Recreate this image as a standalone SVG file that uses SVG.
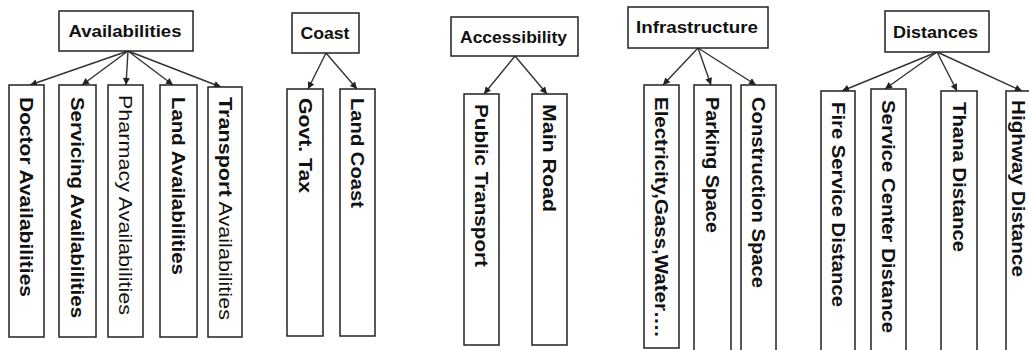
<svg xmlns="http://www.w3.org/2000/svg" width="1029" height="350" viewBox="0 0 1029 350">
<style>
.box{fill:#fff;stroke:#222;stroke-width:1.5}
.h{font-family:"Liberation Sans",Arial,sans-serif;font-weight:bold;font-size:17px;fill:#111;text-anchor:middle}
.v{font-family:"Liberation Sans",Arial,sans-serif;font-weight:bold;font-size:18px;fill:#111}
.n{font-weight:normal}
.c line{stroke:#333;stroke-width:1.4;marker-end:url(#ah)}
</style>
<defs>
<marker id="ah" viewBox="0 0 10 10" refX="10" refY="5" markerWidth="8" markerHeight="7" markerUnits="userSpaceOnUse" orient="auto">
<path d="M0,0 L10,5 L0,10 z" fill="#222"/>
</marker>
</defs>
<rect width="1029" height="350" fill="#fff"/>
<g class="c" id="connectors">
<line x1="128" y1="51" x2="30" y2="85"/>
<line x1="128" y1="51" x2="82" y2="85"/>
<line x1="128" y1="51" x2="126" y2="85"/>
<line x1="128" y1="51" x2="173" y2="85"/>
<line x1="128" y1="51" x2="221" y2="87"/>
<line x1="326" y1="53" x2="308" y2="89"/>
<line x1="326" y1="53" x2="357" y2="89"/>
<line x1="515" y1="56" x2="484" y2="94"/>
<line x1="515" y1="56" x2="547" y2="94"/>
<line x1="698" y1="48" x2="663" y2="85"/>
<line x1="698" y1="48" x2="711" y2="85"/>
<line x1="698" y1="48" x2="756" y2="85"/>
<line x1="937" y1="52" x2="842" y2="91"/>
<line x1="937" y1="52" x2="885" y2="89"/>
<line x1="937" y1="52" x2="957" y2="91"/>
<line x1="937" y1="52" x2="1022" y2="91"/>
</g>
<g id="availabilities"><rect class="box" x="59" y="11" width="134" height="40"/><text class="h" x="125" y="37" textLength="113" lengthAdjust="spacingAndGlyphs">Availabilities</text></g>
<g id="doctor"><rect class="box" x="9" y="85" width="35" height="252"/><text class="v" transform="translate(26.5,97) rotate(90)" y="6.5" textLength="200" lengthAdjust="spacingAndGlyphs">Doctor Availabilities</text></g>
<g id="servicing"><rect class="box" x="59" y="85" width="37" height="252"/><text class="v" transform="translate(77.5,97) rotate(90)" y="6.5" textLength="221" lengthAdjust="spacingAndGlyphs">Servicing Availabilities</text></g>
<g id="pharmacy"><rect class="box" x="108" y="85" width="35" height="252"/><text class="v n" transform="translate(125.5,95) rotate(90)" y="6.5" textLength="220" lengthAdjust="spacingAndGlyphs">Pharmacy Availabilities</text></g>
<g id="land"><rect class="box" x="160" y="85" width="37" height="252"/><text class="v" transform="translate(178.5,97) rotate(90)" y="6.5" textLength="178" lengthAdjust="spacingAndGlyphs">Land Availabilities</text></g>
<g id="transport"><rect class="box" x="208" y="87" width="34" height="250"/><text class="v" transform="translate(225,97) rotate(90)" y="6.5" textLength="223" lengthAdjust="spacingAndGlyphs">Transport<tspan class="n"> Availabilities</tspan></text></g>
<g id="coast"><rect class="box" x="292" y="13" width="67" height="40"/><text class="h" x="325" y="39" textLength="49" lengthAdjust="spacingAndGlyphs">Coast</text></g>
<g id="govt-tax"><rect class="box" x="287" y="89" width="36" height="247"/><text class="v" transform="translate(305,98) rotate(90)" y="6.5" textLength="95" lengthAdjust="spacingAndGlyphs">Govt. Tax</text></g>
<g id="land-coast"><rect class="box" x="340" y="89" width="35" height="247"/><text class="v" transform="translate(357.5,98) rotate(90)" y="6.5" textLength="110" lengthAdjust="spacingAndGlyphs">Land Coast</text></g>
<g id="accessibility"><rect class="box" x="451" y="17" width="127" height="39"/><text class="h" x="513.5" y="43" textLength="107" lengthAdjust="spacingAndGlyphs">Accessibility</text></g>
<g id="public-transport"><rect class="box" x="464" y="94" width="35" height="251"/><text class="v" transform="translate(481.5,104) rotate(90)" y="6.5" textLength="163" lengthAdjust="spacingAndGlyphs">Public Transport</text></g>
<g id="main-road"><rect class="box" x="532" y="94" width="35" height="251"/><text class="v" transform="translate(549.5,104) rotate(90)" y="6.5" textLength="108" lengthAdjust="spacingAndGlyphs">Main Road</text></g>
<g id="infrastructure"><rect class="box" x="628" y="7" width="140" height="41"/><text class="h" x="697" y="33" textLength="122" lengthAdjust="spacingAndGlyphs">Infrastructure</text></g>
<g id="electricity"><rect class="box" x="644" y="85" width="35" height="263"/><text class="v" transform="translate(661.5,97) rotate(90)" y="6.5" textLength="240" lengthAdjust="spacingAndGlyphs">Electricity,Gass,Water….</text></g>
<g id="parking"><rect class="box" x="694" y="85" width="37" height="270"/><text class="v" transform="translate(712.5,97) rotate(90)" y="6.5" textLength="136" lengthAdjust="spacingAndGlyphs">Parking Space</text></g>
<g id="construction"><rect class="box" x="741" y="85" width="35" height="270"/><text class="v" transform="translate(758.5,97) rotate(90)" y="6.5" textLength="191" lengthAdjust="spacingAndGlyphs">Construction Space</text></g>
<g id="distances"><rect class="box" x="885" y="11" width="104" height="41"/><text class="h" x="935.5" y="38" textLength="85" lengthAdjust="spacingAndGlyphs">Distances</text></g>
<g id="fire-service"><rect class="box" x="821" y="91" width="34" height="264"/><text class="v" transform="translate(838,102) rotate(90)" y="6.5" textLength="205" lengthAdjust="spacingAndGlyphs">Fire Service Distance</text></g>
<g id="service-center"><rect class="box" x="871" y="89" width="35" height="266"/><text class="v" transform="translate(888.5,100) rotate(90)" y="6.5" textLength="233" lengthAdjust="spacingAndGlyphs">Service Center Distance</text></g>
<g id="thana"><rect class="box" x="941" y="91" width="36" height="264"/><text class="v" transform="translate(959,102) rotate(90)" y="6.5" textLength="150" lengthAdjust="spacingAndGlyphs">Thana Distance</text></g>
<g id="highway"><rect class="box" x="1006" y="91" width="40" height="264"/><text class="v" transform="translate(1018,100) rotate(90)" y="6.5" textLength="177" lengthAdjust="spacingAndGlyphs">Highway Distance</text></g>
</svg>
